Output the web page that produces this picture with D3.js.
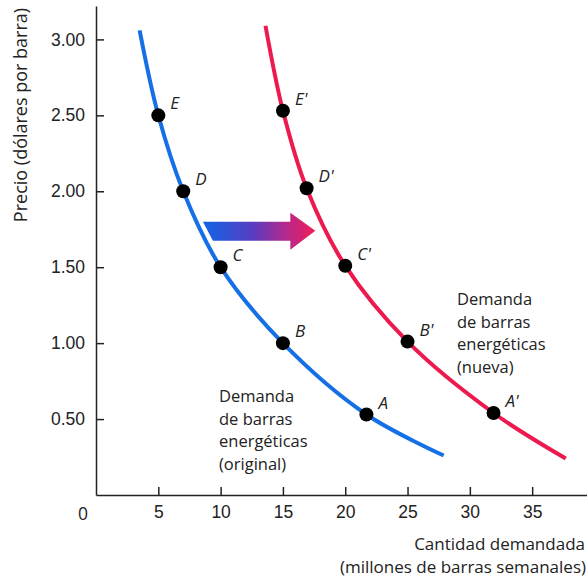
<!DOCTYPE html>
<html>
<head>
  <meta charset="utf-8">
  <title>Demanda de barras energéticas</title>
  <script src="https://d3js.org/d3.v7.min.js"></script>
  <style>
  body {
    margin: 0;
    background: #fff;
  }

  svg {
    font-family: "Open Sans", "Noto Sans", sans-serif;
    fill: #222;
  }

  .axis path,
  .axis line {
    stroke: #222;
    stroke-width: 1.5;
  }

  .axis text {
    font-size: 17.5px;
    fill: #222;
  }

  .lbl {
    font-size: 17px;
    font-style: italic;
  }

  .note {
    font-size: 16.5px;
  }
  </style>
</head>
<body>
  <script>

    // demand curves (quantity in millions of bars, price in dollars)
    var originalQty = [3.5, 5, 7, 10, 15, 21.7, 27.9];
    var originalPrice = [3.06, 2.50, 2.00, 1.50, 1.00, 0.53, 0.26];
    var newQty = [13.6, 15, 16.9, 20, 25, 31.9, 37.7];
    var newPrice = [3.09, 2.53, 2.02, 1.51, 1.01, 0.54, 0.24];

    // labelled points on each curve
    var originalPoints = ["E", "D", "C", "B", "A"];
    var newPoints = ["E'", "D'", "C'", "B'", "A'"];

    var xTicks = [5, 10, 15, 20, 25, 30, 35];
    var yTicks = [0.5, 1, 1.5, 2, 2.5, 3];

    // shift arrow: from [qty, price] to [qty, price]
    var arrowFrom = [8.9, 1.74];
    var arrowTo = [17.6, 1.74];

    var width = 587;
    var height = 577;

    var svg = d3.select("body")
      .append("svg")
      .attr("width", width)
      .attr("height", height);

    var x = d3.scaleLinear()
      .domain([0, 39.4])
      .range([96, 587]);

    var y = d3.scaleLinear()
      .domain([0, 3.22])
      .range([495, 6]);

    svg.append("g")
      .attr("class", "axis")
      .attr("transform", "translate(0," + y(0) + ")")
      .call(d3.axisBottom(x)
        .tickValues(xTicks)
        .tickSizeInner(-8)
        .tickSizeOuter(0)
        .tickPadding(11));

    svg.append("g")
      .attr("class", "axis")
      .attr("transform", "translate(" + x(0) + ",0)")
      .call(d3.axisLeft(y)
        .tickValues(yTicks)
        .tickFormat(d3.format(".2f"))
        .tickSizeInner(-8)
        .tickSizeOuter(0)
        .tickPadding(11));

    svg.selectAll(".axis text").attr("font-family", null);

    svg.append("text")
      .attr("x", x(0) - 13)
      .attr("y", y(0) + 25)
      .attr("text-anchor", "middle")
      .style("font-size", "17.5px")
      .text("0");

    // axis titles
    svg.append("text")
      .attr("transform", "translate(27,115) rotate(-90)")
      .attr("text-anchor", "middle")
      .style("font-size", "18px")
      .text("Precio (dólares por barra)");

    svg.append("text")
      .attr("x", 585)
      .attr("y", 550)
      .attr("text-anchor", "end")
      .style("font-size", "17px")
      .text("Cantidad demandada");

    svg.append("text")
      .attr("x", 586)
      .attr("y", 573)
      .attr("text-anchor", "end")
      .style("font-size", "17px")
      .text("(millones de barras semanales)");

    // arrow with gradient
    var defs = svg.append("defs");
    var grad = defs.append("linearGradient")
      .attr("id", "shift")
      .attr("x1", "0%").attr("x2", "100%")
      .attr("y1", "0%").attr("y2", "0%");
    grad.append("stop").attr("offset", "0%").attr("stop-color", "#0f66e6");
    grad.append("stop").attr("offset", "45%").attr("stop-color", "#5a3cc0");
    grad.append("stop").attr("offset", "75%").attr("stop-color", "#b8288a");
    grad.append("stop").attr("offset", "100%").attr("stop-color", "#ee1f55");

    var ax0 = x(arrowFrom[0]), ax1 = x(arrowTo[0]), ay = y(arrowFrom[1]);
    svg.append("path")
      .attr("d", "M" + (ax0 - 4) + "," + (ay - 9) +
        "L" + (ax1 - 25) + "," + (ay - 9) +
        "L" + (ax1 - 25) + "," + (ay - 18) +
        "L" + ax1 + "," + ay +
        "L" + (ax1 - 25) + "," + (ay + 19) +
        "L" + (ax1 - 25) + "," + (ay + 10) +
        "L" + (ax0 + 6) + "," + (ay + 10) + "Z")
      .attr("fill", "url(#shift)");

    var line = d3.line()
      .x(function(d) { return x(d[0]); })
      .y(function(d) { return y(d[1]); })
      .curve(d3.curveCatmullRom.alpha(0.5));

    function drawCurve(qty, price, names, color) {
      var pts = qty.map(function(q, i) { return [q, price[i]]; });

      svg.append("path")
        .datum(pts)
        .attr("d", line)
        .attr("fill", "none")
        .attr("stroke", color)
        .attr("stroke-width", 4);

      // inner points are the labelled ones
      var marks = pts.slice(1, pts.length - 1);

      svg.append("g").selectAll("circle")
        .data(marks)
        .enter()
        .append("circle")
        .attr("cx", function(d) { return x(d[0]); })
        .attr("cy", function(d) { return y(d[1]); })
        .attr("r", 7)
        .attr("fill", "#000");

      svg.append("g").selectAll("text")
        .data(marks)
        .enter()
        .append("text")
        .attr("class", "lbl")
        .attr("x", function(d) { return x(d[0]) + 12; })
        .attr("y", function(d) { return y(d[1]) - 6; })
        .text(function(d, i) { return names[i]; });
    }

    drawCurve(originalQty, originalPrice, originalPoints, "#1570e6");
    drawCurve(newQty, newPrice, newPoints, "#ec1a4e");

    function note(lines, left, top) {
      svg.append("g").selectAll("text")
        .data(lines)
        .enter()
        .append("text")
        .attr("class", "note")
        .attr("x", left)
        .attr("y", function(d, i) { return top + i * 22.5; })
        .text(function(d) { return d; });
    }

    note(["Demanda", "de barras", "energéticas", "(original)"], 219, 402);
    note(["Demanda", "de barras", "energéticas", "(nueva)"], 457, 305);

  </script>
</body>
</html>
